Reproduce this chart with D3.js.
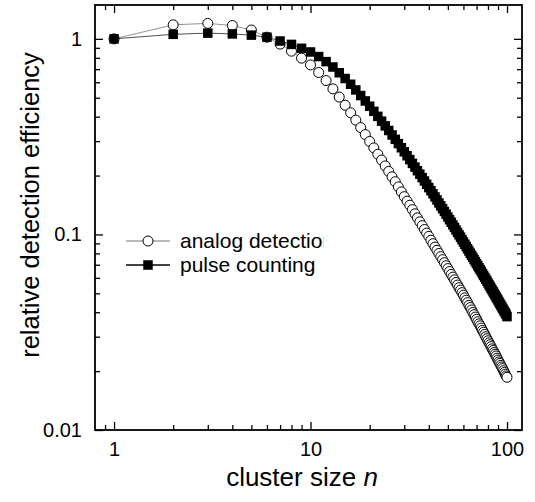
<!DOCTYPE html>
<html>
<head>
<meta charset="utf-8">
<script src="https://cdn.jsdelivr.net/npm/d3@7"></script>
<style>
  body { margin: 0; background: #fff; }
  text { font-family: "Liberation Sans", Arial, sans-serif; fill: #000; }
</style>
</head>
<body>
<div id="chart"></div>
<script>
// Data
var clusterSize = d3.range(1, 101);

var analogDetection = [
  1.0, 1.18, 1.20, 1.17, 1.11, 1.02, 0.94, 0.865, 0.797, 0.736,
  0.673, 0.612, 0.555, 0.504, 0.458, 0.419, 0.384, 0.352, 0.324, 0.299,
  0.277, 0.257, 0.240, 0.224, 0.210, 0.197, 0.186, 0.175, 0.165, 0.156,
  0.148, 0.141, 0.134, 0.1275, 0.1215, 0.116, 0.1109, 0.106, 0.1016, 0.0977,
  0.0934, 0.0897, 0.0862, 0.0830, 0.0799, 0.0770, 0.0743, 0.0717, 0.0692, 0.0669,
  0.0646, 0.0625, 0.0605, 0.0586, 0.0568, 0.0551, 0.0534, 0.0519, 0.0504, 0.0489,
  0.0474, 0.0461, 0.0448, 0.0434, 0.0423, 0.0411, 0.0399, 0.0389, 0.0378, 0.0368,
  0.0358, 0.0349, 0.0341, 0.0332, 0.0323, 0.0316, 0.0308, 0.0300, 0.0293, 0.0286,
  0.0279, 0.0273, 0.0267, 0.0260, 0.0255, 0.0249, 0.0244, 0.0239, 0.0233, 0.0228,
  0.0223, 0.0219, 0.0214, 0.0210, 0.0206, 0.0201, 0.0197, 0.0193, 0.0189, 0.0186
];

var pulseCounting = [
  1.0, 1.055, 1.07, 1.06, 1.045, 1.02, 0.975, 0.937, 0.895, 0.857,
  0.812, 0.765, 0.718, 0.671, 0.627, 0.586, 0.548, 0.513, 0.4815, 0.4524,
  0.4260, 0.4017, 0.3794, 0.3589, 0.3401, 0.3226, 0.3064, 0.2914, 0.2775, 0.2646,
  0.2525, 0.2413, 0.2308, 0.2210, 0.2118, 0.2033, 0.1952, 0.1876, 0.1804, 0.1736,
  0.1673, 0.1612, 0.1555, 0.1501, 0.1449, 0.1400, 0.1354, 0.1310, 0.1268, 0.1228,
  0.1190, 0.1154, 0.1119, 0.1086, 0.1054, 0.1024, 0.0995, 0.0968, 0.0941, 0.0915,
  0.0891, 0.0868, 0.0845, 0.0823, 0.0802, 0.0782, 0.0763, 0.0744, 0.0726, 0.0709,
  0.0692, 0.0676, 0.0661, 0.0646, 0.0631, 0.0617, 0.0603, 0.0590, 0.0578, 0.0565,
  0.0553, 0.0542, 0.0530, 0.0519, 0.0509, 0.0499, 0.0489, 0.0479, 0.0470, 0.0461,
  0.0452, 0.0443, 0.0435, 0.0427, 0.0419, 0.0411, 0.0404, 0.0397, 0.0390, 0.0380
];

var xMajorTicks = [1, 10, 100];
var xTickLabels = ["1", "10", "100"];
var xMinorTicks = [0.9, 2, 3, 4, 5, 6, 7, 8, 9, 20, 30, 40, 50, 60, 70, 80, 90];
var yMajorTicks = [0.01, 0.1, 1];
var yTickLabels = ["0.01", "0.1", "1"];
var yMinorTicks = [0.02, 0.03, 0.04, 0.05, 0.06, 0.07, 0.08, 0.09,
                   0.2, 0.3, 0.4, 0.5, 0.6, 0.7, 0.8, 0.9];

var seriesNames = ["analog detection", "pulse counting"];

// Layout
var svgWidth = 535;
var svgHeight = 502;

var margin = { top: 5, right: 13, bottom: 72, left: 95 };
var width = svgWidth - margin.left - margin.right;
var height = svgHeight - margin.top - margin.bottom;

var svg = d3.select("#chart")
  .append("svg")
  .attr("width", svgWidth)
  .attr("height", svgHeight);

var chartGroup = svg.append("g")
  .attr("transform", `translate(${margin.left}, ${margin.top})`);

// Scales
var xLogScale = d3.scaleLog()
  .domain([0.80, 119.2])
  .range([0, width]);

var yLogScale = d3.scaleLog()
  .domain([0.01, 1.49])
  .range([height, 0]);

// Axes: major ticks with labels, minor ticks without, ticks pointing inward on all sides
function styleAxis(g) {
  g.select(".domain").remove();
  g.selectAll(".tick line").attr("stroke", "#000").attr("stroke-width", 1.3);
  g.selectAll(".tick text").style("font-size", "20px").style("font-family", "'Liberation Sans', Arial, sans-serif");
}

chartGroup.append("g")
  .attr("transform", `translate(0, ${height})`)
  .call(d3.axisBottom(xLogScale).tickValues(xMajorTicks)
    .tickFormat((d, i) => xTickLabels[i]).tickSize(-8).tickPadding(12))
  .call(styleAxis);

chartGroup.append("g")
  .attr("transform", `translate(0, ${height})`)
  .call(d3.axisBottom(xLogScale).tickValues(xMinorTicks).tickFormat("").tickSize(-5))
  .call(styleAxis);

chartGroup.append("g")
  .call(d3.axisTop(xLogScale).tickValues(xMajorTicks).tickFormat("").tickSize(-8))
  .call(styleAxis);

chartGroup.append("g")
  .call(d3.axisTop(xLogScale).tickValues(xMinorTicks).tickFormat("").tickSize(-5))
  .call(styleAxis);

chartGroup.append("g")
  .call(d3.axisLeft(yLogScale).tickValues(yMajorTicks)
    .tickFormat((d, i) => yTickLabels[i]).tickSize(-8).tickPadding(13))
  .call(styleAxis);

chartGroup.append("g")
  .call(d3.axisLeft(yLogScale).tickValues(yMinorTicks).tickFormat("").tickSize(-5))
  .call(styleAxis);

chartGroup.append("g")
  .attr("transform", `translate(${width}, 0)`)
  .call(d3.axisRight(yLogScale).tickValues(yMajorTicks).tickFormat("").tickSize(-8))
  .call(styleAxis);

chartGroup.append("g")
  .attr("transform", `translate(${width}, 0)`)
  .call(d3.axisRight(yLogScale).tickValues(yMinorTicks).tickFormat("").tickSize(-5))
  .call(styleAxis);

// Frame
chartGroup.append("rect")
  .attr("width", width)
  .attr("height", height)
  .attr("fill", "none")
  .attr("stroke", "#000")
  .attr("stroke-width", 1.8);

// Lines
var seriesLine = d3.line()
  .x((d, i) => xLogScale(clusterSize[i]))
  .y(d => yLogScale(d));

chartGroup.append("path")
  .datum(analogDetection)
  .attr("d", seriesLine)
  .attr("fill", "none")
  .attr("stroke", "#777")
  .attr("stroke-width", 0.8);

chartGroup.append("path")
  .datum(pulseCounting)
  .attr("d", seriesLine)
  .attr("fill", "none")
  .attr("stroke", "#222")
  .attr("stroke-width", 0.8);

// Markers
chartGroup.selectAll(".analog")
  .data(analogDetection)
  .enter()
  .append("circle")
  .attr("class", "analog")
  .attr("cx", (d, i) => xLogScale(clusterSize[i]))
  .attr("cy", d => yLogScale(d))
  .attr("r", 5)
  .attr("fill", "#fff")
  .attr("stroke", "#000")
  .attr("stroke-width", 1);

var sq = 9.5;
chartGroup.selectAll(".pulse")
  .data(pulseCounting)
  .enter()
  .append("rect")
  .attr("class", "pulse")
  .attr("x", (d, i) => xLogScale(clusterSize[i]) - sq / 2)
  .attr("y", d => yLogScale(d) - sq / 2)
  .attr("width", sq)
  .attr("height", sq)
  .attr("fill", "#000");

// Legend (the first entry is cut off in the original figure)
svg.append("clipPath")
  .attr("id", "legendClip")
  .append("rect")
  .attr("x", 100).attr("y", 200).attr("width", 224).attr("height", 100);

var legend = svg.append("g")
  .attr("clip-path", "url(#legendClip)");

var legendRows = [241, 265];

legendRows.forEach(function(y, i) {
  legend.append("line")
    .attr("x1", 126).attr("x2", 170)
    .attr("y1", y).attr("y2", y)
    .attr("stroke", i === 0 ? "#777" : "#000")
    .attr("stroke-width", i === 0 ? 1 : 1.3);
  if (i === 0) {
    legend.append("circle")
      .attr("cx", 148).attr("cy", y).attr("r", 5)
      .attr("fill", "#fff").attr("stroke", "#000");
  } else {
    legend.append("rect")
      .attr("x", 148 - sq / 2).attr("y", y - sq / 2)
      .attr("width", sq).attr("height", sq).attr("fill", "#000");
  }
  legend.append("text")
    .attr("x", 180)
    .attr("y", y + 7)
    .style("font-size", "21px")
    .text(seriesNames[i]);
});

// Axis titles
var xTitle = svg.append("text")
  .attr("x", 302)
  .attr("y", 486)
  .attr("text-anchor", "middle")
  .style("font-size", "26px");
xTitle.append("tspan").text("cluster size ");
xTitle.append("tspan").style("font-style", "italic").text("n");

svg.append("text")
  .attr("transform", "translate(39, 205) rotate(-90)")
  .attr("text-anchor", "middle")
  .style("font-size", "25.5px")
  .text("relative detection efficiency");
</script>
</body>
</html>
